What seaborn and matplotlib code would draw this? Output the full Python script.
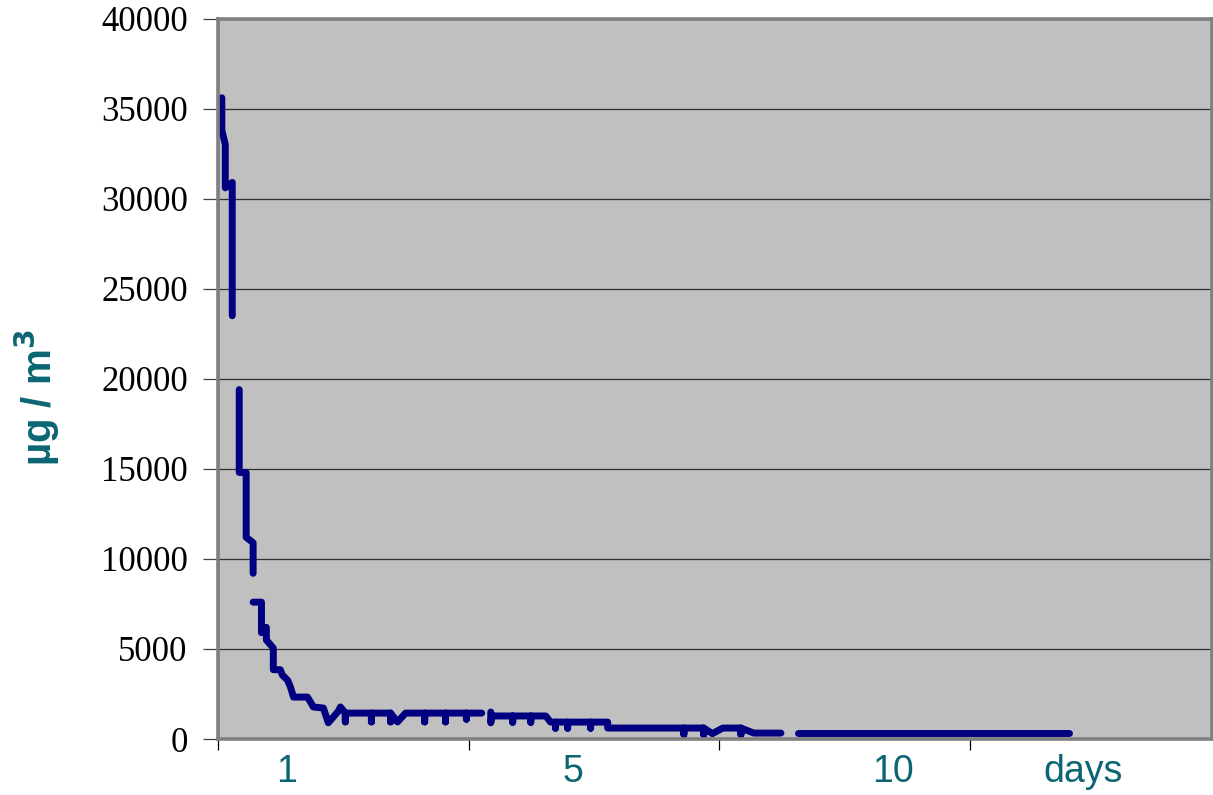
import numpy as np
import pandas as pd
import matplotlib
matplotlib.use("Agg")
import matplotlib.pyplot as plt
import seaborn as sns

# ---- data (hours since start, concentration in µg/m3) ----
seg_a_x = [1, 1, 2, 2, 4, 4]
seg_a_y = [35600, 33800, 33000, 30600, 30900, 23500]

seg_b_x = [6, 6, 8, 8, 10, 10]
seg_b_y = [19400, 14800, 14800, 11200, 10900, 9200]

seg_c_x = [10, 12.4, 12.4, 13.8, 13.8, 15.8, 15.8, 17.8, 18.4, 19.9, 20.7, 21.6, 25.6,
           26.5, 27.3, 30.2, 31.6, 34.5, 35.1, 36.5, 36.5, 36.5, 44.0, 44.0, 44.0,
           49.5, 49.5, 49.5, 51.5, 53.8, 59.3, 59.3, 59.3, 65.3, 65.3, 65.3,
           71.3, 71.3, 71.3, 75.7]
seg_c_y = [7600, 7600, 5900, 6200, 5500, 5050, 3850, 3850, 3550, 3270, 2900, 2330, 2330,
           2050, 1780, 1720, 900, 1550, 1780, 1440, 950, 1440, 1440, 950, 1440,
           1440, 950, 1440, 950, 1440, 1440, 950, 1440, 1440, 950, 1440,
           1440, 1100, 1440, 1440]

seg_d_x = [78.3, 78.3, 78.6, 84.6, 84.6, 84.6, 89.8, 89.8, 89.8, 94.1, 95.5, 96.9, 96.9,
           96.9, 100.4, 100.4, 100.4, 107.0, 107.0, 107.0, 111.9, 111.9, 133.8, 133.8,
           133.8, 139.5, 139.5, 139.5, 142.0, 145.0, 150.2, 150.2, 150.2, 153.9, 161.7]
seg_d_y = [1500, 900, 1280, 1280, 930, 1280, 1280, 930, 1280, 1280, 940, 940, 600,
           940, 940, 600, 940, 940, 600, 940, 940, 610, 610, 250,
           610, 610, 250, 610, 300, 610, 610, 250, 610, 330, 330]

seg_e_x = [166.6, 244.5]
seg_e_y = [330, 330]

x_ticks = [0, 72, 144, 216]
x_max = 285.5
y_ticks = [0, 5000, 10000, 15000, 20000, 25000, 30000, 35000, 40000]
day_labels = ["1", "5", "10", "days"]
day_label_pos = [19.7, 102.0, 194.0, 248.5]

# ---- build frame ----
frames = []
for i, (xs, ys) in enumerate([(seg_a_x, seg_a_y), (seg_b_x, seg_b_y), (seg_c_x, seg_c_y),
                              (seg_d_x, seg_d_y), (seg_e_x, seg_e_y)]):
    frames.append(pd.DataFrame({"hour": xs, "conc": ys, "seg": i}))
df = pd.concat(frames, ignore_index=True)

sns.set_style("white")
teal = "#0B6572"

fig = plt.figure(figsize=(12.13, 7.95), dpi=100)
ax = fig.add_axes([0.180, 0.0704, 0.8189, 0.9063])
ax.set_facecolor("#C0C0C0")

sns.lineplot(data=df, x="hour", y="conc", units="seg", estimator=None, sort=False,
             color="#000080", linewidth=5.0, ax=ax, legend=False,
             solid_capstyle="round", solid_joinstyle="round")

ax.set_xlim(0, x_max)
ax.set_ylim(0, 40000)
ax.set_yticks(y_ticks)
ax.set_yticklabels([str(v) for v in y_ticks], family="Liberation Serif", fontsize=25,
                   color="black")
ax.set_xticks(x_ticks)
ax.set_xticklabels([])
ax.yaxis.grid(True, color="#303030", linewidth=0.9)
ax.xaxis.grid(False)
ax.tick_params(axis="y", length=11, width=0.9, color="#404040", pad=11, direction="out",
               left=True)
ax.tick_params(axis="x", length=8, width=0.9, color="#000000", direction="out", bottom=True)

for s in ax.spines.values():
    s.set_visible(True)
    s.set_color("#808080")
    s.set_linewidth(2.6)
ax.axvline(0, color="black", linewidth=1.0, zorder=1.5)
ax.axhline(0, color="black", linewidth=1.0, zorder=1.5)

ax.set_xlabel("")
ax.set_ylabel("")
fig.text(37 / 1213, 1 - 398 / 795, "µg / m$^{\\mathbf{3}}$", rotation=90, ha="center",
         va="center", fontsize=29, fontweight="bold", color=teal, family="Liberation Sans")

trans = matplotlib.transforms.blended_transform_factory(ax.transData, ax.transAxes)
for lab, pos in zip(day_labels, day_label_pos):
    ax.text(pos, -0.046, lab, transform=trans, ha="center", va="center",
            fontsize=27, color=teal, family="Liberation Sans")

fig.savefig("out.png", dpi=100)
